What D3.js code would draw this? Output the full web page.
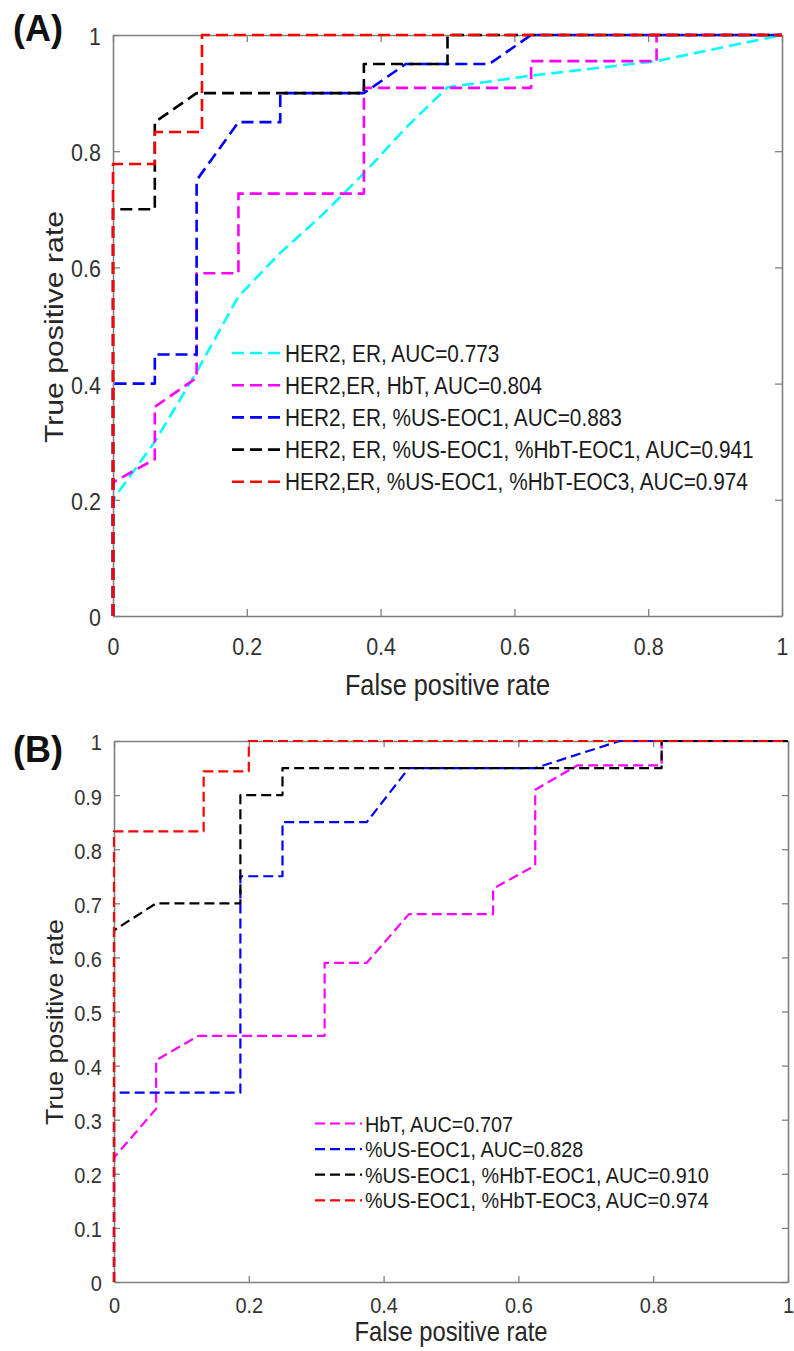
<!DOCTYPE html>
<html>
<head>
<meta charset="utf-8">
<script src="https://cdn.jsdelivr.net/npm/d3@7"></script>
<style>
  body { margin: 0; background: #fff; }
  svg { display: block; }
  text { font-family: "Liberation Sans", Arial, sans-serif; }
</style>
</head>
<body>
<script>
// values, points are [false positive rate, true positive rate]
const xTicks = [0, 0.2, 0.4, 0.6, 0.8, 1];
const yTicksA = [0, 0.2, 0.4, 0.6, 0.8, 1];
const yTicksB = [0, 0.1, 0.2, 0.3, 0.4, 0.5, 0.6, 0.7, 0.8, 0.9, 1];

// panel (A)
const rocA_cyan = [[0,0],[0,0.2],[0.0625,0.3],[0.125,0.42],[0.1875,0.55],[0.25,0.625],[0.3125,0.69],
  [0.375,0.762],[0.4375,0.84],[0.5,0.91],[0.5625,0.92],[0.625,0.93],[0.8125,0.955],[1,1]];
const rocA_magenta = [[0,0],[0,0.23],[0.0625,0.27],[0.0625,0.36],[0.125,0.41],[0.125,0.59],[0.1875,0.59],
  [0.1875,0.727],[0.375,0.727],[0.375,0.909],[0.625,0.909],[0.625,0.955],[0.8125,0.955],[0.8125,1],[1,1]];
const rocA_blue = [[0,0],[0,0.4],[0.0625,0.4],[0.0625,0.45],[0.125,0.45],[0.125,0.75],[0.1875,0.85],[0.25,0.85],
  [0.25,0.9],[0.375,0.9],[0.4375,0.95],[0.5625,0.95],[0.625,1],[1,1]];
const rocA_black = [[0,0],[0,0.7],[0.0625,0.7],[0.0625,0.85],[0.125,0.9],[0.375,0.9],[0.375,0.95],[0.5,0.95],[0.5,1],[1,1]];
const rocA_red = [[0,0],[0,0.778],[0.0625,0.778],[0.0625,0.833],[0.133,0.833],[0.133,1],[1,1]];
const legendA = [
  'HER2, ER, AUC=0.773',
  'HER2,ER, HbT, AUC=0.804',
  'HER2, ER, %US-EOC1, AUC=0.883',
  'HER2, ER, %US-EOC1, %HbT-EOC1, AUC=0.941',
  'HER2,ER, %US-EOC1, %HbT-EOC3, AUC=0.974'
];

// panel (B)
const rocB_magenta = [[0,0],[0,0.23],[0.0625,0.32],[0.0625,0.41],[0.125,0.455],[0.3125,0.455],[0.3125,0.59],
  [0.375,0.59],[0.4375,0.68],[0.5625,0.68],[0.5625,0.727],[0.625,0.77],[0.625,0.91],[0.6875,0.955],
  [0.8125,0.955],[0.8125,1],[1,1]];
const rocB_blue = [[0,0],[0,0.35],[0.1875,0.35],[0.1875,0.75],[0.25,0.75],[0.25,0.85],[0.375,0.85],
  [0.4375,0.95],[0.625,0.95],[0.75,1],[1,1]];
const rocB_black = [[0,0],[0,0.65],[0.0625,0.7],[0.1875,0.7],[0.1875,0.9],[0.25,0.9],[0.25,0.95],
  [0.8125,0.95],[0.8125,1],[1,1]];
const rocB_red = [[0,0],[0,0.833],[0.133,0.833],[0.133,0.944],[0.2,0.944],[0.2,1],[1,1]];
const legendB = [
  'HbT, AUC=0.707',
  '%US-EOC1, AUC=0.828',
  '%US-EOC1, %HbT-EOC1, AUC=0.910',
  '%US-EOC1, %HbT-EOC3, AUC=0.974'
];

const colorsA = ['#00ffff', '#ff00ff', '#0000ff', '#000000', '#ff0000'];
const colorsB = ['#ff00ff', '#0000ff', '#000000', '#ff0000'];

const width = 794, height = 1351;
const stretch = 1.14;   // the source figure is a bit taller than wide

const svg = d3.select('body').append('svg')
  .attr('width', width)
  .attr('height', height);

function addText(g, x, y, str, opts) {
  const t = g.append('text')
    .attr('transform', 'translate(' + x + ',' + y + ') scale(1,' + (opts.k || stretch) + ')' + (opts.rot ? ' rotate(-90)' : ''))
    .attr('font-size', opts.size)
    .attr('fill', opts.color || '#262626')
    .attr('text-anchor', opts.anchor || 'start')
    .text(str);
  if (opts.dy) t.attr('dy', opts.dy);
  if (opts.weight) t.attr('font-weight', opts.weight);
  return t;
}

function drawPanel(p) {
  const x = d3.scaleLinear().domain([0, 1]).range([p.left, p.right]);
  const y = d3.scaleLinear().domain([0, 1]).range([p.bottom, p.top]);
  const g = svg.append('g');

  const axisColor = '#808080';
  // bottom + left with labels, top + right ticks only (box on)
  const bx = g.append('g').attr('transform', 'translate(0,' + p.bottom + ')')
    .call(d3.axisBottom(x).tickValues(xTicks).tickSize(-p.tick).tickSizeOuter(0).tickFormat(d3.format('')));
  const ly = g.append('g').attr('transform', 'translate(' + p.left + ',0)')
    .call(d3.axisLeft(y).tickValues(p.yTicks).tickSize(-p.tick).tickSizeOuter(0).tickFormat(d3.format('')));
  g.append('g').attr('transform', 'translate(0,' + p.top + ')')
    .call(d3.axisTop(x).tickValues(xTicks).tickSize(-p.tick).tickSizeOuter(0).tickFormat(''));
  g.append('g').attr('transform', 'translate(' + p.right + ',0)')
    .call(d3.axisRight(y).tickValues(p.yTicks).tickSize(-p.tick).tickSizeOuter(0).tickFormat(''));

  g.selectAll('.domain').attr('stroke', axisColor).attr('stroke-width', 1.6);
  g.selectAll('.tick line').attr('stroke', axisColor).attr('stroke-width', 1.3);

  bx.selectAll('text')
    .attr('y', 0).attr('dy', 0)
    .attr('transform', 'translate(0,' + p.xLabelOff + ') scale(1,' + stretch + ')')
    .attr('font-size', p.tickFont).attr('fill', '#333')
    .attr('font-family', '"Liberation Sans", Arial, sans-serif');
  ly.selectAll('text')
    .attr('x', 0).attr('dy', '0.35em')
    .attr('transform', 'translate(' + (-p.yLabelOff) + ',1) scale(1,' + stretch + ')')
    .attr('font-size', p.tickFont).attr('fill', '#333')
    .attr('font-family', '"Liberation Sans", Arial, sans-serif');

  // curves, first listed is drawn first (underneath)
  const line = d3.line().x(d => x(d[0])).y(d => y(d[1]));
  p.series.forEach((s, i) => {
    g.append('path')
      .datum(s)
      .attr('d', line)
      .attr('fill', 'none')
      .attr('stroke', p.colors[i])
      .attr('stroke-width', p.lineW)
      .attr('stroke-dasharray', p.dash)
      .attr('stroke-linejoin', 'round');
  });

  // legend (no box)
  p.legend.forEach((lab, i) => {
    const ry = p.legY + i * p.legStep;
    g.append('line')
      .attr('x1', p.legX).attr('x2', p.legX + p.legLen)
      .attr('y1', ry).attr('y2', ry)
      .attr('stroke', p.colors[i])
      .attr('stroke-width', p.lineW)
      .attr('stroke-dasharray', p.dash);
    addText(g, p.legX + p.legLen + 3, ry, lab, { size: p.legFont, dy: '0.36em', color: '#1a1a1a' });
  });

  // axis titles and panel tag
  addText(g, (p.left + p.right) / 2, p.xTitleY, 'False positive rate', { size: p.titleFont, anchor: 'middle' });
  addText(g, p.yTitleX, p.yTitleY, 'True positive rate', { size: p.yTitleFont, anchor: 'middle', rot: true });
  addText(g, 13, p.tagY, p.tag, { size: 36, weight: 'bold', color: '#111', k: 1 });
}

drawPanel({
  tag: '(A)', tagY: 41,
  left: 113, right: 782, top: 35, bottom: 616, tick: 7,
  yTicks: yTicksA, tickFont: 21.5, xLabelOff: 39, yLabelOff: 12,
  series: [rocA_cyan, rocA_magenta, rocA_blue, rocA_black, rocA_red],
  colors: colorsA, lineW: 2.6, dash: '12,6',
  legend: legendA, legX: 232, legLen: 50, legY: 353, legStep: 32.2, legFont: 20.8,
  titleFont: 25.3, xTitleY: 695, yTitleFont: 26.5, yTitleX: 63, yTitleY: 327
});

drawPanel({
  tag: '(B)', tagY: 762,
  left: 114, right: 788, top: 741, bottom: 1282, tick: 6,
  yTicks: yTicksB, tickFont: 20, xLabelOff: 31, yLabelOff: 12,
  series: [rocB_magenta, rocB_blue, rocB_black, rocB_red],
  colors: colorsB, lineW: 2.2, dash: '10,5',
  legend: legendB, legX: 315, legLen: 47, legY: 1123.5, legStep: 25.6, legFont: 19.8,
  titleFont: 23.8, xTitleY: 1341, yTitleFont: 23.5, yTitleX: 63, yTitleY: 1022
});
</script>
</body>
</html>
